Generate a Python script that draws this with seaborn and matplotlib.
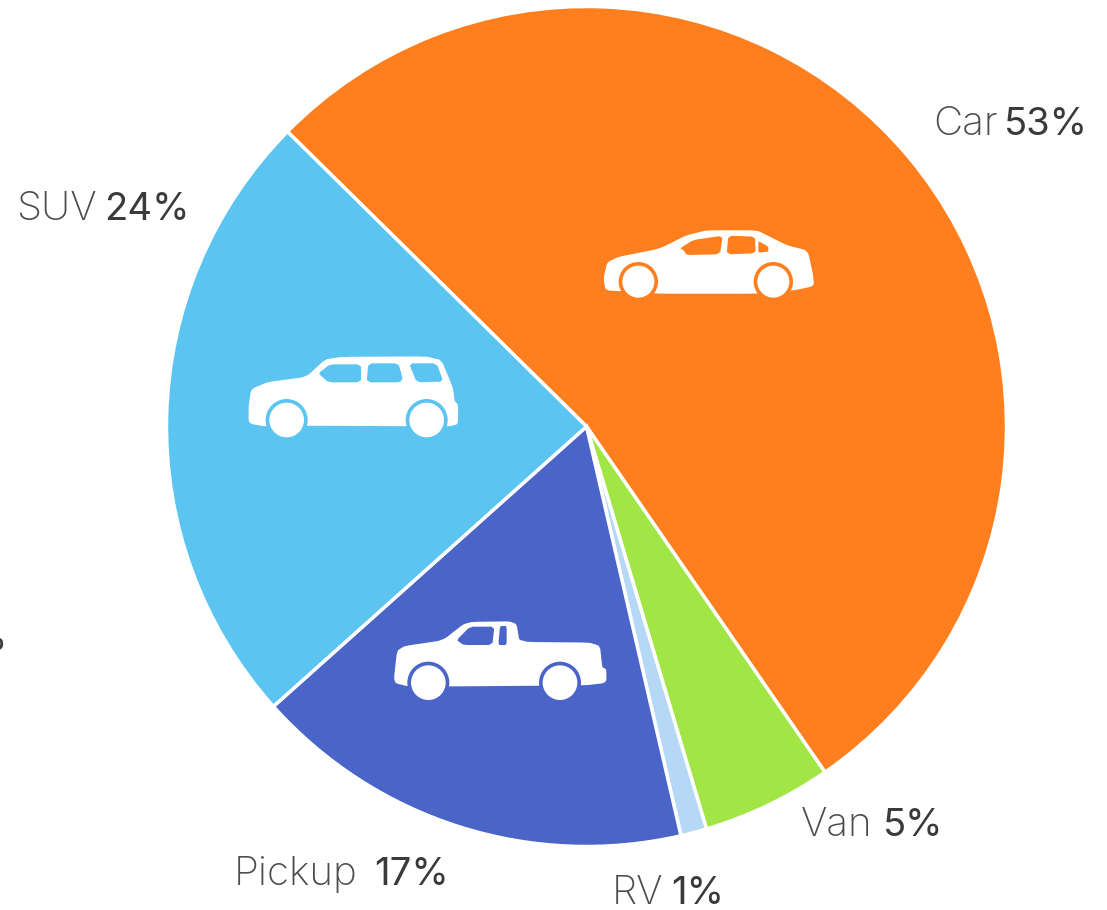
import matplotlib
matplotlib.use('Agg')
import matplotlib.pyplot as plt
from matplotlib.patches import Polygon, Circle
import seaborn as sns

# Data
vehicles = ['Car', 'Van', 'RV', 'Pickup', 'SUV']
shares = [53, 5, 1, 17, 24]
colors = ['#FF7F1E', '#A2E645', '#B4D8F5', '#4A64C8', '#5BC4F0']

sns.set_theme(style='white')
plt.rcParams['font.family'] = ['Inter', 'DejaVu Sans']

W, H = 1107, 910
fig = plt.figure(figsize=(W / 100, H / 100), dpi=100)

# the pie, on an axes measured in pixels with y going up
ax = fig.add_axes([0, 0, 1, 1])
palette = sns.color_palette(colors)
ax.pie(shares, colors=palette, startangle=135.4, counterclock=False,
       center=(586.5, H - 426.5), radius=420,
       wedgeprops={'edgecolor': 'white', 'linewidth': 2.5})
ax.set_xlim(0, W)
ax.set_ylim(0, H)
ax.set_aspect('equal')
ax.axis('off')

# overlay for labels and icons, y going down like the picture
over = fig.add_axes([0, 0, 1, 1])
over.set_xlim(0, W)
over.set_ylim(H, 0)
over.axis('off')
over.patch.set_alpha(0)

# x of left edge, x of right edge, baseline
label_pos = {
    'Car': (933, 1088, 135),
    'Van': (801, 943, 836),
    'RV': (612, 724, 904),
    'Pickup': (234, 449, 885),
    'SUV': (16, 190, 220),
}

for name, share in zip(vehicles, shares):
    x0, x1, y = label_pos[name]
    over.text(x0, y, name, fontsize=29, fontweight='light', color='#4d4d4d', ha='left', va='baseline')
    over.text(x1, y, f'{share}%', fontsize=27.5, color='#3a3a3a', ha='right', va='baseline')

# a label cut off by the left edge of the picture
over.text(7, 650, '%', fontsize=27.5, color='#3a3a3a', ha='right', va='baseline')


def soften(points, cut=0.12, passes=2):
    # cut the corners off so the outline is not so angular
    for _ in range(passes):
        new = []
        for i, (ax0, ay0) in enumerate(points):
            bx, by = points[(i + 1) % len(points)]
            new.append((ax0 + (bx - ax0) * cut, ay0 + (by - ay0) * cut))
            new.append((bx + (ax0 - bx) * cut, by + (ay0 - by) * cut))
        points = new
    return points


def draw_icon(origin, body, windows, wheels, bg):
    ox, oy = origin
    pts = lambda p: [(ox + a / 3, oy + b / 3) for a, b in p]
    over.add_patch(Polygon(pts(soften(body)), closed=True, fc='white', ec='white', lw=2, joinstyle='round'))
    for w in windows:
        over.add_patch(Polygon(pts(soften(w, passes=1)), closed=True, fc=bg, ec='none'))
    for cx, cy, r in wheels:
        over.add_patch(Circle((ox + cx / 3, oy + cy / 3), (r + 11) / 3, fc=bg, ec='none'))
        over.add_patch(Circle((ox + cx / 3, oy + cy / 3), r / 3, fc='white', ec='none'))


car_body = [(45, 190), (55, 145), (85, 130), (210, 105), (290, 65), (350, 50), (500, 50), (540, 70),
            (590, 95), (650, 110), (665, 180), (668, 210), (610, 222), (500, 232), (210, 232),
            (100, 225), (50, 222)]
car_windows = [[(270, 100), (310, 75), (398, 62), (390, 118), (290, 120), (280, 105)],
               [(415, 62), (495, 65), (497, 115), (410, 118)],
               [(505, 78), (535, 95), (535, 110), (505, 113)]]
draw_icon((590, 215), car_body, car_windows, [(145, 200, 48), (550, 200, 48)], colors[0])

suv_body = [(45, 185), (52, 135), (100, 115), (215, 100), (280, 40), (612, 38), (650, 130), (655, 170),
            (665, 180), (665, 235), (640, 240), (220, 238), (90, 240), (45, 232)]
suv_windows = [[(250, 85), (285, 58), (378, 58), (378, 112), (280, 112)],
               [(400, 55), (490, 55), (503, 100), (495, 112), (395, 112)],
               [(522, 55), (605, 55), (625, 110), (545, 112)]]
draw_icon((235, 345), suv_body, suv_windows, [(155, 225, 52), (575, 225, 52)], colors[4])

pickup_body = [(30, 215), (40, 125), (60, 112), (175, 95), (245, 40), (390, 38), (400, 100), (640, 102),
               (648, 175), (660, 180), (660, 215), (600, 222), (200, 225), (70, 225)]
pickup_windows = [[(215, 90), (255, 50), (328, 50), (322, 105), (235, 105)],
                  [(345, 48), (365, 48), (365, 105), (340, 105)]]
draw_icon((385, 610), pickup_body, pickup_windows, [(130, 218, 52), (525, 218, 52)], colors[3])

fig.savefig('out.png', dpi=100, facecolor='white')
